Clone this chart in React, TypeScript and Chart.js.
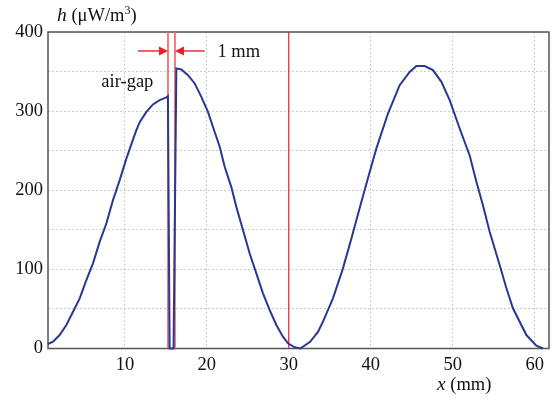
import React, { useEffect, useRef } from "react";
import { Chart, registerables } from "chart.js";

Chart.register(...registerables);

// ---- data ----
const X_MIN = 0.62;
const X_MAX = 61.75;
const Y_MIN = 0;
const Y_MAX = 400;
const X_TICKS = [10, 20, 30, 40, 50, 60];
const Y_LABELS = [0, 100, 200, 300, 400];

const CURVE_X = [
  0.62, 1.23, 2.04, 2.86, 3.67, 4.49, 5.3, 6.11, 6.93, 7.74, 8.55, 9.37, 10.18, 10.99, 11.4, 11.81, 12.62, 13.43, 14.24,
  15.0, 15.25, 15.46, 15.94, 16.28, 16.89, 17.7, 18.52, 19.33, 20.14, 20.75, 21.57, 22.18, 22.99, 23.6, 24.41,
  25.23, 26.04, 26.85, 27.67, 28.48, 29.29, 29.9, 30.72, 31.41, 32.6, 33.56, 34.17, 35.39, 36.61, 37.64, 38.86,
  39.87, 40.69, 42.1, 43.53, 44.75, 45.57, 46.58, 47.59, 48.62, 49.63, 50.85, 52.07, 52.89, 53.69, 54.51, 55.73,
  56.5, 57.35, 58.99, 60.21, 61.02,
];
const CURVE_Y = [
  5.7, 8.6, 17, 29.7, 46.5, 63.4, 86.5, 107.6, 135, 158, 187.6, 212.8, 240, 264, 276, 286, 299, 308.5, 314,
  317, 319, 0, 0, 354, 352.6, 345.5, 335, 318, 299, 280, 255, 229.6, 204, 179, 149.7,
  120, 95, 69.7, 48.6, 29.7, 15, 6.5, 1.5, 0, 8.5, 21, 33.9, 63.4, 101.3, 139, 185.4,
  223, 252.9, 297, 332.8, 349.6, 357, 357, 351.8, 337, 314, 278, 244, 210.7, 181, 147.5, 105.5,
  78, 50.8, 17, 3.5, 0,
];

// vertical marker lines (x in mm)
const GAP_LEFT = 15.26;
const GAP_RIGHT = 16.11;
const MARK_30 = 30;

// annotations (data coordinates)
const ARROW_Y = 376;
const ARROW_LEFT_TAIL = 11.6;
const ARROW_RIGHT_TAIL = 19.74;
const GAP_TEXT = "1 mm";
const GAP_TEXT_POS = { x: 21.3, y: 368 };
const AIRGAP_TEXT = "air-gap";
const AIRGAP_TEXT_POS = { x: 7.13, y: 330 };

const FONT = '"Liberation Serif", "Times New Roman", serif';
const FS = 18.5;

const vline = (xv: number) => [
  { x: xv, y: Y_MIN },
  { x: xv, y: Y_MAX },
];

const decorPlugin = {
  id: "decor",
  beforeDatasetsDraw(chart: any) {
    const { ctx, chartArea } = chart;
    ctx.save();
    ctx.strokeStyle = "#555555";
    ctx.lineWidth = 1.5;
    ctx.strokeRect(chartArea.left, chartArea.top, chartArea.right - chartArea.left, chartArea.bottom - chartArea.top);
    ctx.restore();
  },
  afterDatasetsDraw(chart: any) {
    const { ctx, chartArea, scales } = chart;
    const xs = scales.x;
    const ys = scales.y;
    ctx.save();
    // arrows
    const red = "#e8202a";
    const ay = ys.getPixelForValue(ARROW_Y);
    const drawArrow = (tail: number, tip: number) => {
      const tx = xs.getPixelForValue(tail);
      const px = xs.getPixelForValue(tip);
      const dir = px > tx ? 1 : -1;
      ctx.strokeStyle = red;
      ctx.lineWidth = 1.4;
      ctx.beginPath();
      ctx.moveTo(tx, ay);
      ctx.lineTo(px - dir * 6, ay);
      ctx.stroke();
      ctx.fillStyle = red;
      ctx.beginPath();
      ctx.moveTo(px, ay);
      ctx.lineTo(px - dir * 9, ay - 4.5);
      ctx.lineTo(px - dir * 9, ay + 4.5);
      ctx.closePath();
      ctx.fill();
    };
    drawArrow(ARROW_LEFT_TAIL, GAP_LEFT);
    drawArrow(ARROW_RIGHT_TAIL, GAP_RIGHT);

    // texts
    ctx.fillStyle = "#111111";
    ctx.textBaseline = "alphabetic";
    ctx.textAlign = "left";
    ctx.font = `${FS}px ${FONT}`;
    ctx.fillText(GAP_TEXT, xs.getPixelForValue(GAP_TEXT_POS.x), ys.getPixelForValue(GAP_TEXT_POS.y));
    ctx.fillText(AIRGAP_TEXT, xs.getPixelForValue(AIRGAP_TEXT_POS.x), ys.getPixelForValue(AIRGAP_TEXT_POS.y));

    // y-axis title: h (μW/m³)
    let tx = chartArea.left + 9;
    const tyY = chartArea.top - 11;
    ctx.font = `italic ${FS + 1}px ${FONT}`;
    ctx.fillText("h", tx, tyY);
    tx += ctx.measureText("h").width;
    ctx.font = `${FS}px ${FONT}`;
    const p1 = " (\u03BCW/m";
    ctx.fillText(p1, tx, tyY);
    tx += ctx.measureText(p1).width;
    ctx.font = `12px ${FONT}`;
    ctx.fillText("3", tx, tyY - 7);
    tx += ctx.measureText("3").width;
    ctx.font = `${FS}px ${FONT}`;
    ctx.fillText(")", tx, tyY);

    // x-axis title: x (mm)
    let xx = chartArea.right - 112;
    const xy = chartArea.bottom + 41;
    ctx.font = `italic ${FS + 1}px ${FONT}`;
    ctx.fillText("x", xx, xy);
    xx += ctx.measureText("x").width;
    ctx.font = `${FS}px ${FONT}`;
    ctx.fillText(" (mm)", xx, xy);
    ctx.restore();
  },
};

export default function App() {
  const ref = useRef<HTMLCanvasElement | null>(null);
  useEffect(() => {
    if (!ref.current) return;
    const curve = CURVE_X.map((x, i) => ({ x, y: CURVE_Y[i] }));
    const chart = new Chart(ref.current, {
      type: "line",
      data: {
        datasets: [
          {
            data: curve,
            borderColor: "#2a3794",
            borderWidth: 2,
            pointRadius: 0,
            tension: 0,
            fill: false,
            order: 0,
            clip: 3,
          } as any,
          {
            data: vline(GAP_LEFT),
            borderColor: "rgba(240,110,110,0.9)",
            borderWidth: 2,
            pointRadius: 0,
            order: 1,
          },
          {
            data: vline(GAP_RIGHT),
            borderColor: "rgba(240,110,110,0.9)",
            borderWidth: 2,
            pointRadius: 0,
            order: 1,
          },
          {
            data: vline(MARK_30),
            borderColor: "#e8202a",
            borderWidth: 1.2,
            pointRadius: 0,
            order: 1,
          },
        ],
      },
      options: {
        animation: false,
        responsive: false,
        maintainAspectRatio: false,
        layout: { padding: { top: 32, right: 4, left: 0, bottom: 0 } },
        plugins: { legend: { display: false }, tooltip: { enabled: false } },
        scales: {
          x: {
            type: "linear",
            min: X_MIN,
            max: X_MAX,
            afterBuildTicks: (scale: any) => {
              scale.ticks = X_TICKS.map((v) => ({ value: v }));
            },
            afterFit: (scale: any) => {
              scale.height = 52.5;
            },
            grid: { color: "#cccccc", lineWidth: 1, drawTicks: false },
            border: { display: false, dash: [2, 2] },
            ticks: {
              padding: 6,
              color: "#111111",
              font: { family: FONT, size: FS },
              maxRotation: 0,
              autoSkip: false,
            },
          },
          y: {
            type: "linear",
            min: Y_MIN,
            max: Y_MAX,
            afterFit: (scale: any) => {
              scale.width = 48;
            },
            grid: { color: "#cccccc", lineWidth: 1, drawTicks: false },
            border: { display: false, dash: [2, 2] },
            ticks: {
              stepSize: 50,
              padding: 5,
              color: "#111111",
              font: { family: FONT, size: FS },
              callback: (v: any) => (Y_LABELS.includes(Number(v)) ? String(v) : ""),
            },
          },
        },
      },
      plugins: [decorPlugin],
    });
    return () => chart.destroy();
  }, []);
  return (
    <div style={{ position: "fixed", left: 0, top: 0, width: 553, height: 401, background: "#fff" }}>
      <canvas ref={ref} width={553} height={401} />
    </div>
  );
}
